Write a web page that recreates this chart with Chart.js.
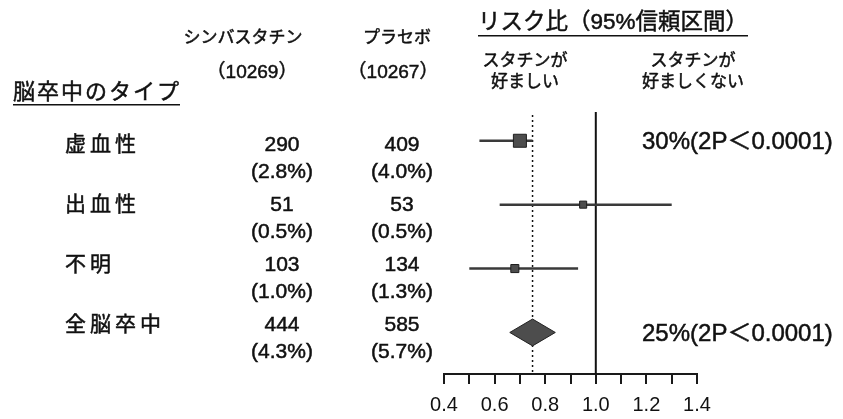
<!DOCTYPE html>
<html lang="ja">
<head>
<meta charset="utf-8">
<script src="https://cdn.jsdelivr.net/npm/chart.js@4.4.1/dist/chart.umd.min.js"></script>
<style>
  html, body { margin: 0; padding: 0; background: #fff; }
  #forest { display: block; }
</style>
</head>
<body>
<canvas id="forest" width="843" height="419"></canvas>
<script>
// stroke types and event counts per arm
const rowLabels = ['虚血性', '出血性', '不明', '全脳卒中'];
const simvaCount = [290, 51, 103, 444];
const simvaPct = [2.8, 0.5, 1.0, 4.3];
const placeboCount = [409, 53, 134, 585];
const placeboPct = [4.0, 0.5, 1.3, 5.7];

// risk ratio and 95% CI
const riskRatio = [0.70, 0.95, 0.68, 0.75];
const ciLow = [0.54, 0.62, 0.50, 0.66];
const ciHigh = [0.75, 1.30, 0.93, 0.84];
const pValueText = ['2P＜0.0001', '', '', '2P＜0.0001'];

const groupNames = ['シンバスタチン', 'プラセボ'];
const groupSize = [10269, 10267];

const xMin = 0.4, xMax = 1.4, xStep = 0.1;

// last row is the pooled estimate (diamond), the others get a box + CI line
const totalRow = rowLabels.length - 1;
const boxRadius = [9.2, 5, 5.7];
const diamondHalf = 0.21;

const rows = rowLabels.map((_, i) => i + 1);

const ciSets = rows.slice(0, totalRow).map((r, i) => ({
  data: [{ x: ciLow[i], y: r }, { x: ciHigh[i], y: r }],
  showLine: true,
  borderColor: '#3a3a3a',
  borderWidth: 2.5,
  pointRadius: 0,
  order: 2
}));

const boxSet = {
  data: rows.slice(0, totalRow).map((r, i) => ({ x: riskRatio[i], y: r })),
  pointStyle: 'rect',
  pointRadius: boxRadius,
  backgroundColor: '#4d4d4d',
  borderColor: '#1e1e1e',
  borderWidth: 1,
  order: 0
};

// solid line at 1.0, dotted line at the pooled estimate
const refLines = {
  id: 'refLines',
  beforeDatasetsDraw(chart) {
    const { ctx, chartArea, scales: { x } } = chart;
    ctx.save();
    ctx.strokeStyle = '#111';
    ctx.lineWidth = 2;
    const x1 = x.getPixelForValue(1);
    ctx.beginPath();
    ctx.moveTo(x1, chartArea.top);
    ctx.lineTo(x1, chartArea.bottom);
    ctx.stroke();
    ctx.lineWidth = 1.5;
    ctx.setLineDash([2, 3]);
    const xd = x.getPixelForValue(riskRatio[totalRow]);
    ctx.beginPath();
    ctx.moveTo(xd, chartArea.top + 3);
    ctx.lineTo(xd, chartArea.bottom);
    ctx.stroke();
    ctx.restore();
  }
};

const diamond = {
  id: 'diamond',
  afterDatasetsDraw(chart) {
    const { ctx, scales: { x, y } } = chart;
    const r = rows[totalRow];
    ctx.save();
    ctx.beginPath();
    ctx.moveTo(x.getPixelForValue(ciLow[totalRow]), y.getPixelForValue(r));
    ctx.lineTo(x.getPixelForValue(riskRatio[totalRow]), y.getPixelForValue(r - diamondHalf));
    ctx.lineTo(x.getPixelForValue(ciHigh[totalRow]), y.getPixelForValue(r));
    ctx.lineTo(x.getPixelForValue(riskRatio[totalRow]), y.getPixelForValue(r + diamondHalf));
    ctx.closePath();
    ctx.fillStyle = '#4d4d4d';
    ctx.fill();
    ctx.strokeStyle = '#222';
    ctx.lineWidth = 1;
    ctx.stroke();
    ctx.restore();
  }
};

const tableText = {
  id: 'tableText',
  afterDraw(chart) {
    const { ctx, scales: { y } } = chart;
    ctx.save();
    ctx.fillStyle = '#111';
    ctx.strokeStyle = '#111';
    ctx.lineWidth = 0.5;
    ctx.textBaseline = 'middle';
    const put = (str, px, py, size, align, spacing) => {
      ctx.font = size + 'px "Liberation Sans", "Noto Sans CJK JP", sans-serif';
      ctx.textAlign = align || 'left';
      ctx.letterSpacing = (spacing || 0) + 'px';
      ctx.fillText(str, px, py);
      ctx.strokeText(str, px, py);
    };
    const underline = (x0, x1, py) => ctx.fillRect(x0, py, x1 - x0, 1.5);

    // header
    put(groupNames[0], 243, 38, 17, 'center');
    put(groupNames[1], 397, 38, 17, 'center');
    put('（' + groupSize[0] + '）', 252, 73, 19, 'center');
    put('（' + groupSize[1] + '）', 393, 73, 19, 'center');
    put('脳卒中のタイプ', 13, 93, 22, 'left', 2);
    underline(13, 180, 104);
    put('リスク比（95%信頼区間）', 478, 23, 22.5, 'left');
    underline(478, 748, 35);
    put('スタチンが', 525, 61, 17, 'center');
    put('好ましい', 525, 82, 17, 'center');
    put('スタチンが', 693, 61, 17, 'center');
    put('好ましくない', 693, 82, 17, 'center');

    // table rows
    rowLabels.forEach((label, i) => {
      const ty = 145 + i * 60;
      put(label, 65, ty, 21, 'left', 4);
      put(String(simvaCount[i]), 282, ty, 21, 'center');
      put(String(placeboCount[i]), 402, ty, 21, 'center');
      put('(' + simvaPct[i].toFixed(1) + '%)', 282, ty + 27, 21, 'center');
      put('(' + placeboPct[i].toFixed(1) + '%)', 402, ty + 27, 21, 'center');
      if (pValueText[i]) {
        const red = Math.round((1 - riskRatio[i]) * 100);
        put(red + '%(' + pValueText[i] + ')', 642, y.getPixelForValue(rows[i]) + 2, 24, 'left');
      }
    });
    ctx.restore();
  }
};

new Chart(document.getElementById('forest'), {
  type: 'scatter',
  data: { datasets: [boxSet, ...ciSets] },
  options: {
    responsive: false,
    animation: false,
    devicePixelRatio: 1,
    layout: { padding: { left: 444, right: 146, top: 112, bottom: -7 } },
    plugins: { legend: { display: false }, tooltip: { enabled: false } },
    scales: {
      x: {
        type: 'linear',
        min: xMin,
        max: xMax,
        border: { display: true, color: '#1a1a1a', width: 2 },
        grid: { drawOnChartArea: false, drawTicks: true, tickLength: 10, color: '#1a1a1a', lineWidth: 2 },
        ticks: {
          stepSize: xStep,
          autoSkip: false,
          maxRotation: 0,
          padding: 9,
          color: '#111',
          font: { family: '"Liberation Sans", sans-serif', size: 20, lineHeight: 1.2 },
          callback: (v) => (Math.round(v * 10) % 2 === 0 ? v.toFixed(1) : '')
        }
      },
      y: {
        display: false,
        reverse: true,
        min: 0.55,
        max: 4.65
      }
    }
  },
  plugins: [refLines, diamond, tableText]
});
</script>
</body>
</html>
